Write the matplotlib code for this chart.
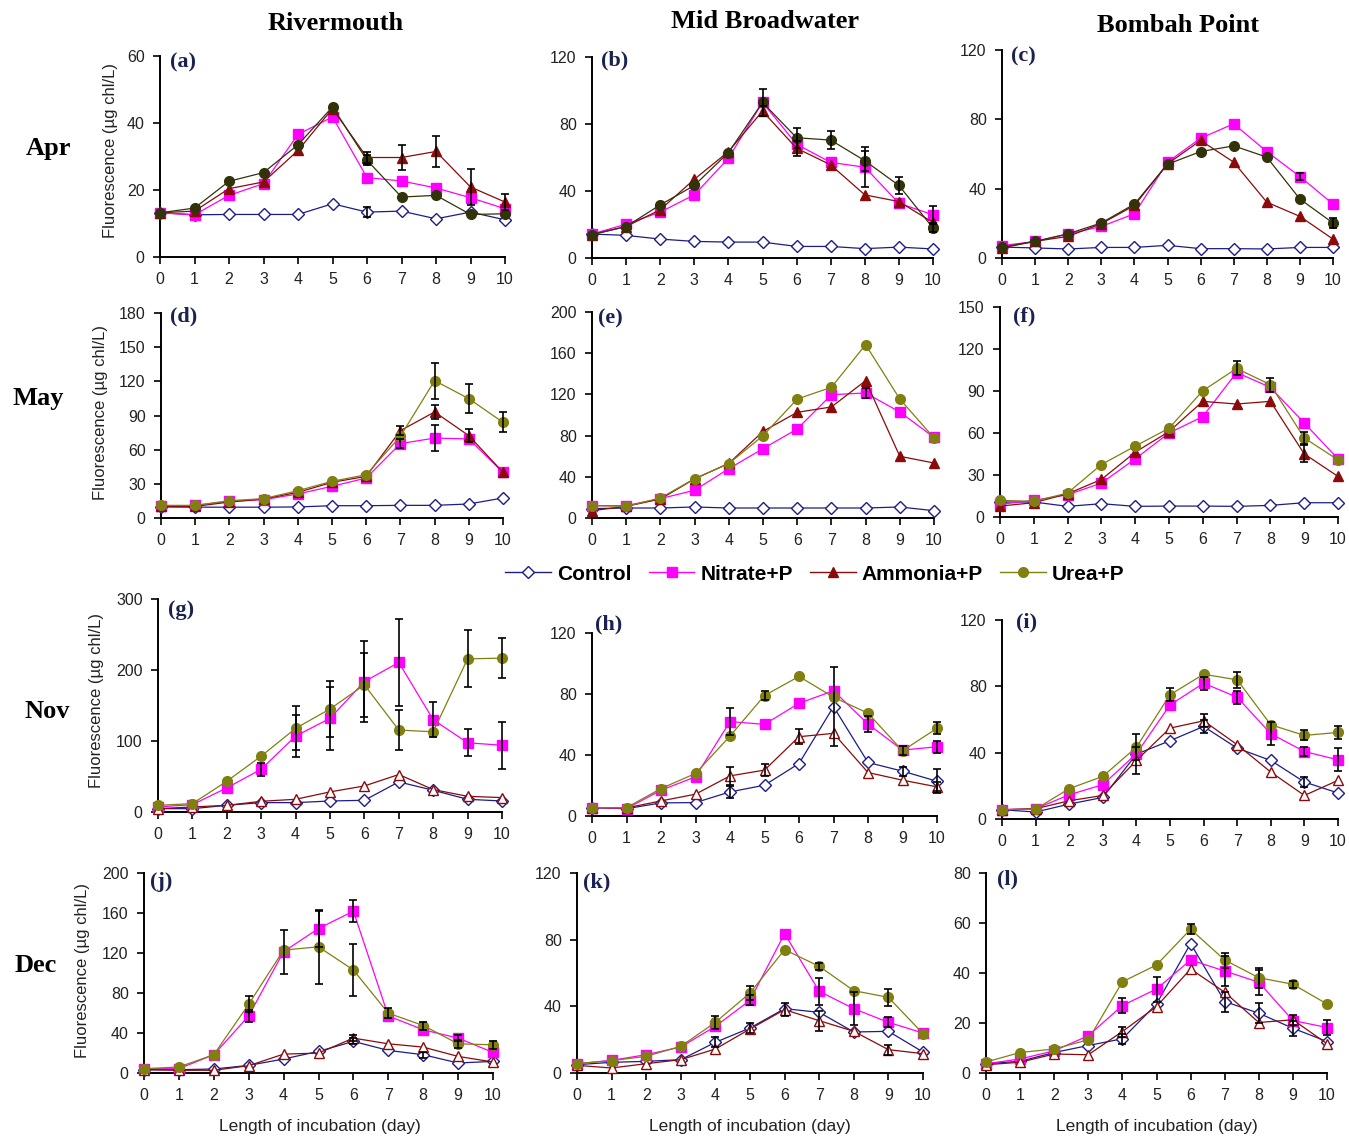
import matplotlib
matplotlib.use("Agg")
import matplotlib.pyplot as plt
from matplotlib.lines import Line2D

W, H = 1349, 1137
plt.rcParams["font.family"] = ["Liberation Sans", "DejaVu Sans"]

days = list(range(11))
sites = ["Rivermouth", "Mid Broadwater", "Bombah Point"]
months = ["Apr", "May", "Nov", "Dec"]
series_names = ["Control", "Nitrate+P", "Ammonia+P", "Urea+P"]

# ---- April ----
a_ctrl = [13.2, 12.6, 12.7, 12.7, 12.7, 15.9, 13.4, 13.7, 11.4, 13.4, 11.1]
a_nit = [13.2, 12.6, 18.4, 21.9, 36.6, 41.8, 23.7, 22.7, 20.6, 17.7, 14.4]
a_amm = [13.2, 13.7, 20.4, 22.4, 31.8, 44.3, 29.7, 29.7, 31.5, 20.9, 16.4]
a_urea = [13.2, 14.6, 22.6, 25.2, 33.5, 44.8, 28.9, 17.9, 18.4, 12.7, 12.9]
a_err = {"ctrl": {6: 1.5}, "amm": {6: 1.5, 7: 3.8, 8: 4.5, 9: 5.5, 10: 2.5}, "urea": {6: 1.5}}

b_ctrl = [14.3, 13.5, 11.3, 9.9, 9.5, 9.5, 6.9, 6.9, 5.6, 6.5, 5.4]
b_nit = [14.3, 20.2, 27.4, 37.7, 59.5, 92.9, 67.9, 57.1, 54.2, 32.7, 25.8]
b_amm = [14.0, 18.8, 28.8, 47.0, 63.5, 87.7, 65.5, 55.6, 37.7, 33.7, 21.2]
b_urea = [14.0, 18.8, 31.7, 43.3, 62.9, 92.9, 71.8, 70.4, 58.1, 43.3, 17.9]
b_err = {"nit": {8: 12, 10: 5}, "amm": {5: 3, 6: 4.5}, "urea": {5: 8, 6: 6, 7: 5.5, 8: 6, 9: 5, 10: 2.5}}

c_ctrl = [6.3, 5.8, 5.2, 6.1, 6.1, 7.3, 5.4, 5.4, 5.2, 6.1, 6.1]
c_nit = [7.1, 9.6, 13.8, 18.2, 25.5, 55.3, 69.1, 77.4, 61.4, 47.0, 31.1]
c_amm = [5.8, 9.6, 12.5, 19.8, 30.3, 54.3, 67.8, 55.3, 32.2, 24.0, 10.9]
c_urea = [6.3, 9.6, 14.0, 20.2, 31.1, 54.1, 61.4, 64.7, 58.2, 34.0, 20.2]
c_err = {"nit": {9: 2}, "urea": {10: 3}}

# ---- May ----
d_ctrl = [9.7, 9.5, 9.5, 9.5, 9.7, 10.8, 10.8, 11.1, 11.1, 12.3, 17.6]
d_nit = [10.2, 11.1, 14.6, 16.1, 21.1, 27.8, 35.1, 65.3, 70.2, 69.4, 40.1]
d_amm = [10.2, 10.2, 14.0, 16.7, 22.5, 31.3, 36.6, 76.7, 93.1, 72.3, 40.1]
d_urea = [11.1, 11.1, 15.2, 17.0, 24.0, 32.2, 38.0, 71.7, 120.6, 104.8, 84.0]
d_err = {"nit": {7: 4, 8: 11.7}, "amm": {7: 4, 8: 6, 9: 6}, "urea": {8: 15.8, 9: 13, 10: 8.8}}

e_ctrl = [9.1, 9.7, 9.7, 10.7, 9.7, 9.7, 9.7, 9.7, 9.7, 10.7, 7.1]
e_nit = [12.0, 12.0, 18.8, 26.9, 47.9, 67.3, 86.4, 119.7, 121.4, 102.9, 78.3]
e_amm = [7.1, 11.3, 18.4, 38.0, 53.0, 84.1, 102.6, 107.8, 133.3, 59.9, 53.4]
e_urea = [12.0, 11.3, 19.4, 38.2, 52.8, 79.9, 115.5, 126.9, 168.3, 115.5, 77.7]
e_err = {"nit": {8: 5}}

f_ctrl = [10.7, 10.7, 7.6, 9.5, 7.6, 7.8, 7.8, 7.6, 8.3, 10.2, 10.2]
f_nit = [9.0, 11.9, 15.9, 24.2, 41.5, 60.0, 71.7, 103.2, 92.6, 67.2, 41.5]
f_amm = [7.8, 10.2, 16.6, 26.8, 46.3, 61.0, 82.6, 80.7, 82.6, 45.1, 29.0]
f_urea = [11.9, 11.2, 17.1, 37.5, 50.6, 63.4, 90.2, 106.1, 94.5, 56.5, 40.8]
f_err = {"amm": {9: 6}, "urea": {7: 5, 8: 5, 9: 4}}

# ---- November ----
g_ctrl = [4.7, 4.7, 9.4, 13.2, 13.2, 15.5, 16.5, 42.4, 30.6, 17.9, 15.5]
g_nit = [7.1, 10.4, 33.9, 60.3, 106.9, 131.9, 183.7, 210.6, 130.0, 97.5, 94.0]
g_amm = [4.7, 7.1, 9.4, 15.1, 17.9, 28.3, 36.7, 52.8, 31.6, 22.1, 20.3]
g_urea = [9.4, 11.8, 43.3, 78.7, 117.8, 145.1, 179.0, 115.4, 113.0, 215.7, 216.7]
g_err = {"nit": {3: 9, 4: 30, 5: 44, 6: 57, 7: 61, 8: 25, 9: 19, 10: 33},
         "urea": {4: 31, 5: 40, 6: 45, 7: 28, 9: 40, 10: 28}}

h_ctrl = [5.5, 4.8, 8.6, 8.8, 15.8, 20.2, 34.4, 71.7, 35.1, 29.4, 22.8]
h_nit = [5.5, 4.8, 16.9, 25.7, 61.9, 60.1, 73.9, 82.1, 60.3, 43.2, 45.4]
h_amm = [5.5, 5.3, 9.9, 14.3, 26.3, 30.1, 52.0, 54.2, 28.5, 23.5, 19.1]
h_urea = [5.5, 5.5, 18.0, 27.9, 52.4, 79.0, 91.5, 77.9, 67.4, 42.8, 57.5]
h_err = {"ctrl": {4: 4, 7: 26, 9: 3, 10: 8}, "nit": {4: 9, 8: 5, 10: 4},
         "amm": {4: 6, 5: 4, 6: 5, 10: 3}, "urea": {5: 3, 9: 3, 10: 4}}

i_ctrl = [5.6, 4.2, 9.0, 13.0, 39.1, 47.2, 55.8, 42.7, 35.3, 22.3, 15.7]
i_nit = [5.6, 6.2, 14.6, 20.7, 39.3, 68.8, 81.9, 73.4, 51.4, 40.7, 35.7]
i_amm = [5.6, 6.2, 11.0, 14.2, 35.3, 54.8, 59.2, 44.8, 28.3, 14.2, 23.3]
i_urea = [5.6, 6.0, 18.3, 25.7, 43.3, 74.9, 87.3, 83.9, 56.8, 50.4, 52.2]
i_err = {"ctrl": {6: 4, 9: 3}, "nit": {6: 4, 7: 4, 8: 7, 9: 3, 10: 7},
         "amm": {4: 8, 6: 4}, "urea": {4: 8, 5: 4, 7: 5, 9: 3, 10: 4}}

# ---- December ----
j_ctrl = [3.3, 3.3, 4.0, 7.6, 14.0, 21.6, 31.6, 22.6, 18.3, 10.0, 11.6]
j_nit = [4.3, 4.3, 18.3, 57.1, 121.3, 144.5, 161.8, 57.1, 43.2, 34.9, 20.6]
j_amm = [3.3, 2.7, 2.7, 7.3, 18.9, 19.9, 34.9, 29.2, 25.9, 16.6, 11.0]
j_urea = [4.3, 6.0, 18.3, 68.8, 122.9, 126.2, 103.0, 59.8, 47.5, 29.2, 28.2]
j_err = {"ctrl": {6: 3, 8: 3}, "nit": {3: 6, 4: 22, 5: 18, 6: 11, 9: 3},
         "amm": {6: 3}, "urea": {3: 8, 5: 37, 6: 26, 7: 5, 8: 4, 9: 4, 10: 4}}

k_ctrl = [5.0, 6.4, 7.0, 8.0, 18.4, 27.0, 38.6, 36.4, 24.6, 25.0, 12.6]
k_nit = [5.6, 7.6, 11.0, 15.6, 28.0, 43.6, 83.6, 49.0, 38.6, 30.4, 24.0]
k_amm = [4.6, 3.0, 5.6, 8.0, 14.4, 26.4, 38.0, 31.4, 25.0, 14.0, 11.6]
k_urea = [5.6, 7.4, 10.0, 16.0, 30.4, 48.0, 74.0, 64.0, 49.4, 45.4, 23.6]
k_err = {"ctrl": {4: 3, 5: 3}, "nit": {5: 3, 7: 8, 8: 10, 9: 3},
         "amm": {6: 4, 7: 6, 9: 3}, "urea": {4: 4, 5: 4, 7: 2, 9: 5}}

l_ctrl = [3.7, 4.7, 8.2, 11.0, 13.7, 27.6, 51.8, 28.6, 23.9, 17.9, 12.6]
l_nit = [3.7, 5.6, 8.9, 14.9, 27.0, 33.6, 45.2, 40.8, 36.3, 21.0, 18.2]
l_amm = [3.3, 4.3, 7.6, 7.3, 16.6, 26.6, 41.6, 32.3, 20.2, 21.3, 11.7]
l_urea = [4.4, 8.2, 9.6, 13.3, 36.5, 43.2, 57.5, 45.2, 38.1, 35.5, 27.6]
l_err = {"ctrl": {4: 2, 7: 4, 8: 4, 9: 3}, "nit": {4: 3, 5: 5, 7: 6, 8: 5, 10: 3},
         "amm": {4: 2, 9: 2}, "urea": {6: 2, 7: 3, 8: 4, 9: 1.5}}

# y ticks per panel
yt_a = [0, 20, 40, 60]
yt_b = [0, 40, 80, 120]
yt_c = [0, 40, 80, 120]
yt_d = [0, 30, 60, 90, 120, 150, 180]
yt_e = [0, 40, 80, 120, 160, 200]
yt_f = [0, 30, 60, 90, 120, 150]
yt_g = [0, 100, 200, 300]
yt_h = [0, 40, 80, 120]
yt_i = [0, 40, 80, 120]
yt_j = [0, 40, 80, 120, 160, 200]
yt_k = [0, 40, 80, 120]
yt_l = [0, 20, 40, 60, 80]

# axes boxes in pixels: x of day 0, x of day 10, y of top tick, y of zero
boxes = {
    "a": (160, 505, 56, 257), "b": (592, 933, 57, 258), "c": (1002, 1333, 50, 258),
    "d": (161, 503, 313, 518), "e": (592, 934, 312, 518), "f": (1000, 1338, 307, 517),
    "g": (158, 502, 599, 812), "h": (592, 937, 633, 816), "i": (1002, 1338, 620, 819),
    "j": (144, 493, 873, 1073), "k": (577, 923, 873, 1073), "l": (986, 1327, 873, 1073),
}
# panel letter positions (left, centre y)
tags = {
    "a": (170, 62), "b": (601, 60), "c": (1011, 56), "d": (170, 316), "e": (598, 318),
    "f": (1013, 316), "g": (168, 610), "h": (595, 624), "i": (1016, 622), "j": (150, 882),
    "k": (583, 882), "l": (997, 879),
}

panels = [
    ("a", a_ctrl, a_nit, a_amm, a_urea, a_err, yt_a, 0),
    ("b", b_ctrl, b_nit, b_amm, b_urea, b_err, yt_b, 0),
    ("c", c_ctrl, c_nit, c_amm, c_urea, c_err, yt_c, 0),
    ("d", d_ctrl, d_nit, d_amm, d_urea, d_err, yt_d, 1),
    ("e", e_ctrl, e_nit, e_amm, e_urea, e_err, yt_e, 1),
    ("f", f_ctrl, f_nit, f_amm, f_urea, f_err, yt_f, 1),
    ("g", g_ctrl, g_nit, g_amm, g_urea, g_err, yt_g, 2),
    ("h", h_ctrl, h_nit, h_amm, h_urea, h_err, yt_h, 2),
    ("i", i_ctrl, i_nit, i_amm, i_urea, i_err, yt_i, 2),
    ("j", j_ctrl, j_nit, j_amm, j_urea, j_err, yt_j, 3),
    ("k", k_ctrl, k_nit, k_amm, k_urea, k_err, yt_k, 3),
    ("l", l_ctrl, l_nit, l_amm, l_urea, l_err, yt_l, 3),
]

C_CTRL = "#1c1c8c"
C_NIT = "#ff00ff"
C_AMM = "#8b0a0a"
C_UREA_DARK = "#33330a"
C_UREA = "#808010"

fig = plt.figure(figsize=(W / 100, H / 100), dpi=100)


def fx(x):
    return x / W


def fy(y):
    return 1 - y / H


def draw(ax, x, y, err, color, marker, face, ms):
    ax.plot(x, y, color=color, lw=0.9, marker=marker, ms=ms, mfc=face,
            mec=color, mew=1.0, clip_on=False, zorder=3)
    if err:
        ex = list(err.keys())
        ey = [y[d] for d in ex]
        ax.errorbar(ex, ey, yerr=list(err.values()), fmt="none", ecolor="black",
                    elinewidth=1.2, capsize=3, capthick=1.2, clip_on=False, zorder=4)


for key, ctrl, nit, amm, urea, err, yt, row in panels:
    x0, x10, ytop, yzero = boxes[key]
    ax = fig.add_axes([fx(x0), fy(yzero), (x10 - x0) / W, (yzero - ytop) / H])
    open_amm = row >= 2
    urea_col = C_UREA_DARK if row == 0 else C_UREA
    draw(ax, days, ctrl, err.get("ctrl"), C_CTRL, "D", "white", 6)
    draw(ax, days, nit, err.get("nit"), C_NIT, "s", C_NIT, 7)
    draw(ax, days, amm, err.get("amm"), C_AMM, "^", "white" if open_amm else C_AMM, 7.5)
    draw(ax, days, urea, err.get("urea"), urea_col, "o", urea_col, 7)

    ax.set_xlim(0, 10)
    ax.set_ylim(0, yt[-1])
    ax.set_xticks(days)
    ax.set_yticks(yt)
    for s in ("top", "right"):
        ax.spines[s].set_visible(False)
    for s in ("left", "bottom"):
        ax.spines[s].set_linewidth(1.4)
    ax.tick_params(direction="out", length=5, width=1.2, labelsize=11.5,
                   labelcolor="#222222", pad=6)
    ax.patch.set_alpha(0)
    tx, ty = tags[key]
    fig.text(fx(tx), fy(ty), "(%s)" % key, family="Liberation Serif", weight="bold",
             fontsize=16, color="#1a2350", ha="left", va="center")

# column titles and row labels
for name, cx, cy in zip(sites, [336, 765, 1178], [23, 21, 25]):
    fig.text(fx(cx), fy(cy), name, family="Liberation Serif", weight="bold",
             fontsize=19, ha="center", va="center")
for name, cx, cy in zip(months, [48, 38, 47, 36], [148, 399, 712, 966]):
    fig.text(fx(cx), fy(cy), name, family="Liberation Serif", weight="bold",
             fontsize=19, ha="center", va="center")

# y labels on the left column
for lx, ly in [(110, 150), (101, 412), (97, 700), (83, 970)]:
    fig.text(fx(lx), fy(ly), "Fluorescence (\u00b5g chl/L)", rotation=90,
             fontsize=12, color="#222222", ha="center", va="center")

# x labels along the bottom row
for cx in [320, 750, 1157]:
    fig.text(fx(cx), fy(1127), "Length of incubation (day)", fontsize=12.5,
             color="#222222", ha="center", va="center")

handles = [
    Line2D([], [], color=C_CTRL, lw=1, marker="D", ms=6, mfc="white", mec=C_CTRL),
    Line2D([], [], color=C_NIT, lw=1, marker="s", ms=7, mfc=C_NIT, mec=C_NIT),
    Line2D([], [], color=C_AMM, lw=1, marker="^", ms=7.5, mfc=C_AMM, mec=C_AMM),
    Line2D([], [], color=C_UREA, lw=1, marker="o", ms=7, mfc=C_UREA, mec=C_UREA),
]
fig.legend(handles, series_names, loc="center", bbox_to_anchor=(fx(815), fy(574)),
           ncol=4, frameon=False, handlelength=2.2, handletextpad=0.3,
           columnspacing=0.8, prop={"weight": "bold", "size": 15})

fig.savefig("out.png", dpi=100)
